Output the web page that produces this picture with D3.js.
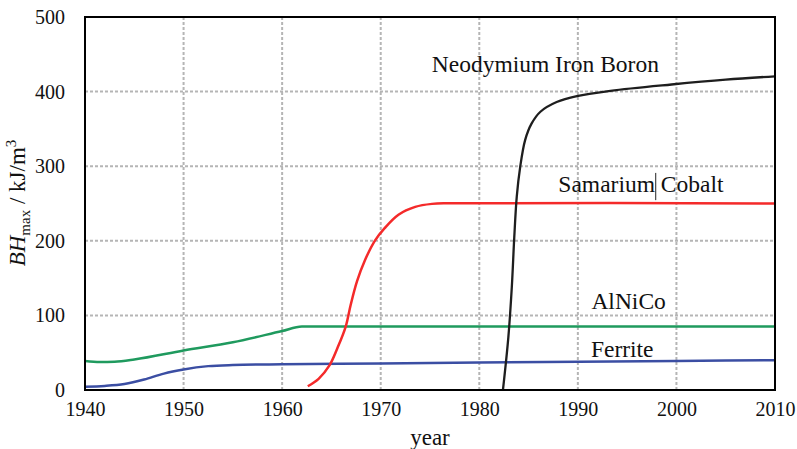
<!DOCTYPE html>
<html><head><meta charset="utf-8">
<script src="https://cdn.jsdelivr.net/npm/d3@7"></script>
<style>body{margin:0;background:#fff}text{font-family:"Liberation Serif","Times New Roman",serif;fill:#111}</style>
</head><body><svg id="c" width="797" height="449"></svg>
<script>
const xTicks = [1940,1950,1960,1970,1980,1990,2000,2010];
const yTicks = [0,100,200,300,400,500];
const ferriteYears = [1940,1942,1944,1946,1948,1950,1952.5,1955,1960,1970,1980,1990,2000,2010];
const ferriteVals  = [4.5,5.5,8,14,22,27.5,32,33.5,34.5,35.5,37,38,39,40];
const alnicoYears = [1940,1941.5,1943,1945,1950,1955,1960,1962,2010];
const alnicoVals  = [39,37.5,38,41,53,64,79,85,85];
const smcoYears = [1962.6,1963.7,1964.8,1965.6,1966.45,1966.95,1967.6,1968.4,1969.4,1970.4,1971.8,1973.5,1975.2,1977,2010];
const smcoVals  = [5,15,33,56,85,114,146,174,200,217,235,245.5,249.5,250.3,250];
const ndfebYears = [1982.4,1982.95,1983.3,1983.55,1983.8,1984.15,1984.65,1985.3,1986.2,1987.85,1989.9,1993.3,1999.5,2005,2010];
const ndfebVals  = [0,71,138,205,259,299,335,357,373,386,394,401,409.5,416,420.5];
const labels = [
  {text:"Neodymium Iron Boron", year:1986.7, val:426.5},
  {text:"Samarium Cobalt", year:1996.4, val:266},
  {text:"AlNiCo", year:1995.15, val:108.6},
  {text:"Ferrite", year:1994.5, val:44.6}
];

const svg = d3.select("#c");
const L=85,R=775,T=17,B=390;
const x = d3.scaleLinear().domain([1940,2010]).range([L,R]);
const y = d3.scaleLinear().domain([0,500]).range([B,T]);

const g = svg.append("g");
// grid
g.selectAll(".vg").data(xTicks.slice(1,-1)).enter().append("line")
 .attr("x1",d=>x(d)).attr("x2",d=>x(d)).attr("y1",T).attr("y2",B)
 .attr("stroke","#b5b5b5").attr("stroke-width",2).attr("stroke-dasharray","3,2");
g.selectAll(".hg").data(yTicks.slice(1,-1)).enter().append("line")
 .attr("y1",d=>y(d)).attr("y2",d=>y(d)).attr("x1",L).attr("x2",R)
 .attr("stroke","#b5b5b5").attr("stroke-width",2).attr("stroke-dasharray","3,2");

// axes labels via d3 axes
const xAxis = svg.append("g").attr("transform",`translate(0,${B})`)
 .call(d3.axisBottom(x).tickValues(xTicks).tickFormat(d3.format("d")).tickSize(0).tickPadding(12));
xAxis.select(".domain").remove();
xAxis.selectAll("text").style("font-size","20px").style("font-family","Liberation Serif").attr("fill","#111");
const yAxis = svg.append("g").attr("transform",`translate(${L},0)`)
 .call(d3.axisLeft(y).tickValues(yTicks).tickSize(0).tickPadding(20));
yAxis.select(".domain").remove();
yAxis.selectAll("text").style("font-size","20px").style("font-family","Liberation Serif").attr("fill","#111");

// series
const mono = d3.line().x(d=>x(d[0])).y(d=>y(d[1])).curve(d3.curveMonotoneX);
const cat = d3.line().x(d=>x(d[0])).y(d=>y(d[1])).curve(d3.curveCatmullRom.alpha(0.5));
const series = [
  [ferriteYears,ferriteVals,"#3b4ea3",2.5,mono],
  [alnicoYears,alnicoVals,"#1f9a5e",2.5,mono],
  [smcoYears,smcoVals,"#f42a2a",2.5,cat],
  [ndfebYears,ndfebVals,"#1e1e1e",2.3,cat]
];
svg.append("clipPath").attr("id","cp").append("rect").attr("x",L).attr("y",T).attr("width",R-L).attr("height",B-T);
series.forEach(([xs,vs,c,w,ln])=>{
  svg.append("path").datum(xs.map((v,i)=>[v,vs[i]])).attr("d",ln)
   .attr("fill","none").attr("stroke",c).attr("stroke-width",w).attr("clip-path","url(#cp)");
});

// frame
svg.append("rect").attr("x",L).attr("y",T).attr("width",R-L).attr("height",B-T)
 .attr("fill","none").attr("stroke","#000").attr("stroke-width",2);

// labels
labels.forEach(l=>{
  svg.append("text").attr("x",x(l.year)).attr("y",y(l.val)).attr("text-anchor","middle")
   .style("font-size","23.5px").text(l.text);
});
// cursor artifact between Samarium and Cobalt
svg.append("line").attr("x1",x(1997.9)).attr("x2",x(1997.9)).attr("y1",y(291)).attr("y2",y(254.5))
 .attr("stroke","#222").attr("stroke-width",1);

// axis titles
svg.append("text").attr("x",x(1975)).attr("y",445).attr("text-anchor","middle").style("font-size","23px").text("year");
const yt = svg.append("text").attr("transform","translate(25,203) rotate(-90)").attr("text-anchor","middle").style("font-size","23px");
yt.append("tspan").style("font-style","italic").text("BH");
yt.append("tspan").attr("dy",5).style("font-size","15px").text("max");
yt.append("tspan").attr("dy",-5).text(" / kJ/m");
yt.append("tspan").attr("dy",-9).style("font-size","15px").text("3");
</script></body></html>
